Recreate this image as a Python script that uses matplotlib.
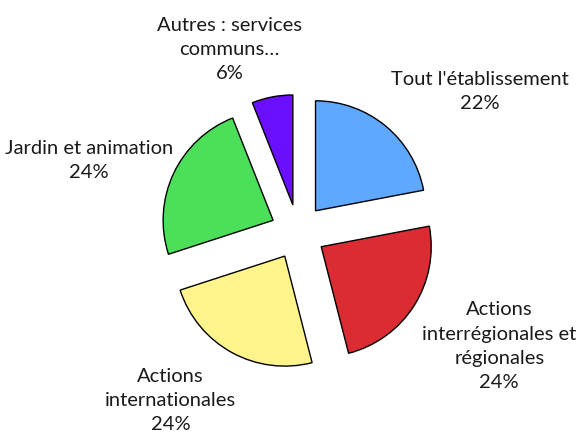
import matplotlib
matplotlib.use('Agg')
import matplotlib.pyplot as plt

# Budget split by category (percent)
labels = ["Tout l'établissement",
          "Actions\ninterrégionales et\nrégionales",
          "Actions\ninternationales",
          "Jardin et animation",
          "Autres : services\ncommuns…"]
values = [22, 24, 24, 24, 6]
colors = ['#5EA8FF', '#DC2C33', '#FFF48C', '#4CE05A', '#6A0FFF']

# where each text label sits (in pie radius units, centre at 0,0)
label_pos = [(1.65, 1.28), (1.83, -1.04), (-1.16, -1.53), (-1.90, 0.65), (-0.62, 1.66)]

plt.rcParams['font.family'] = ['Lato', 'DejaVu Sans']

fig = plt.figure(figsize=(5.78, 4.37), dpi=100)
ax = fig.add_axes([0, 0, 1, 1])

ax.pie(values, colors=colors, startangle=90, counterclock=False,
       explode=[0.25] * len(values), radius=1.0,
       wedgeprops={'edgecolor': 'black', 'linewidth': 1.0})

for lab, v, (x, y) in zip(labels, values, label_pos):
    ax.text(x, y, f"{lab}\n{v}%", ha='center', va='center',
            fontsize=14.5, linespacing=1.52, color='#1a1a1a')

ax.set_aspect('equal')
ax.set_xlim(-298 / 110, (578 - 298) / 110)
ax.set_ylim(-(437 - 232) / 110, 232 / 110)
ax.axis('off')

fig.savefig('out.png', dpi=100)
